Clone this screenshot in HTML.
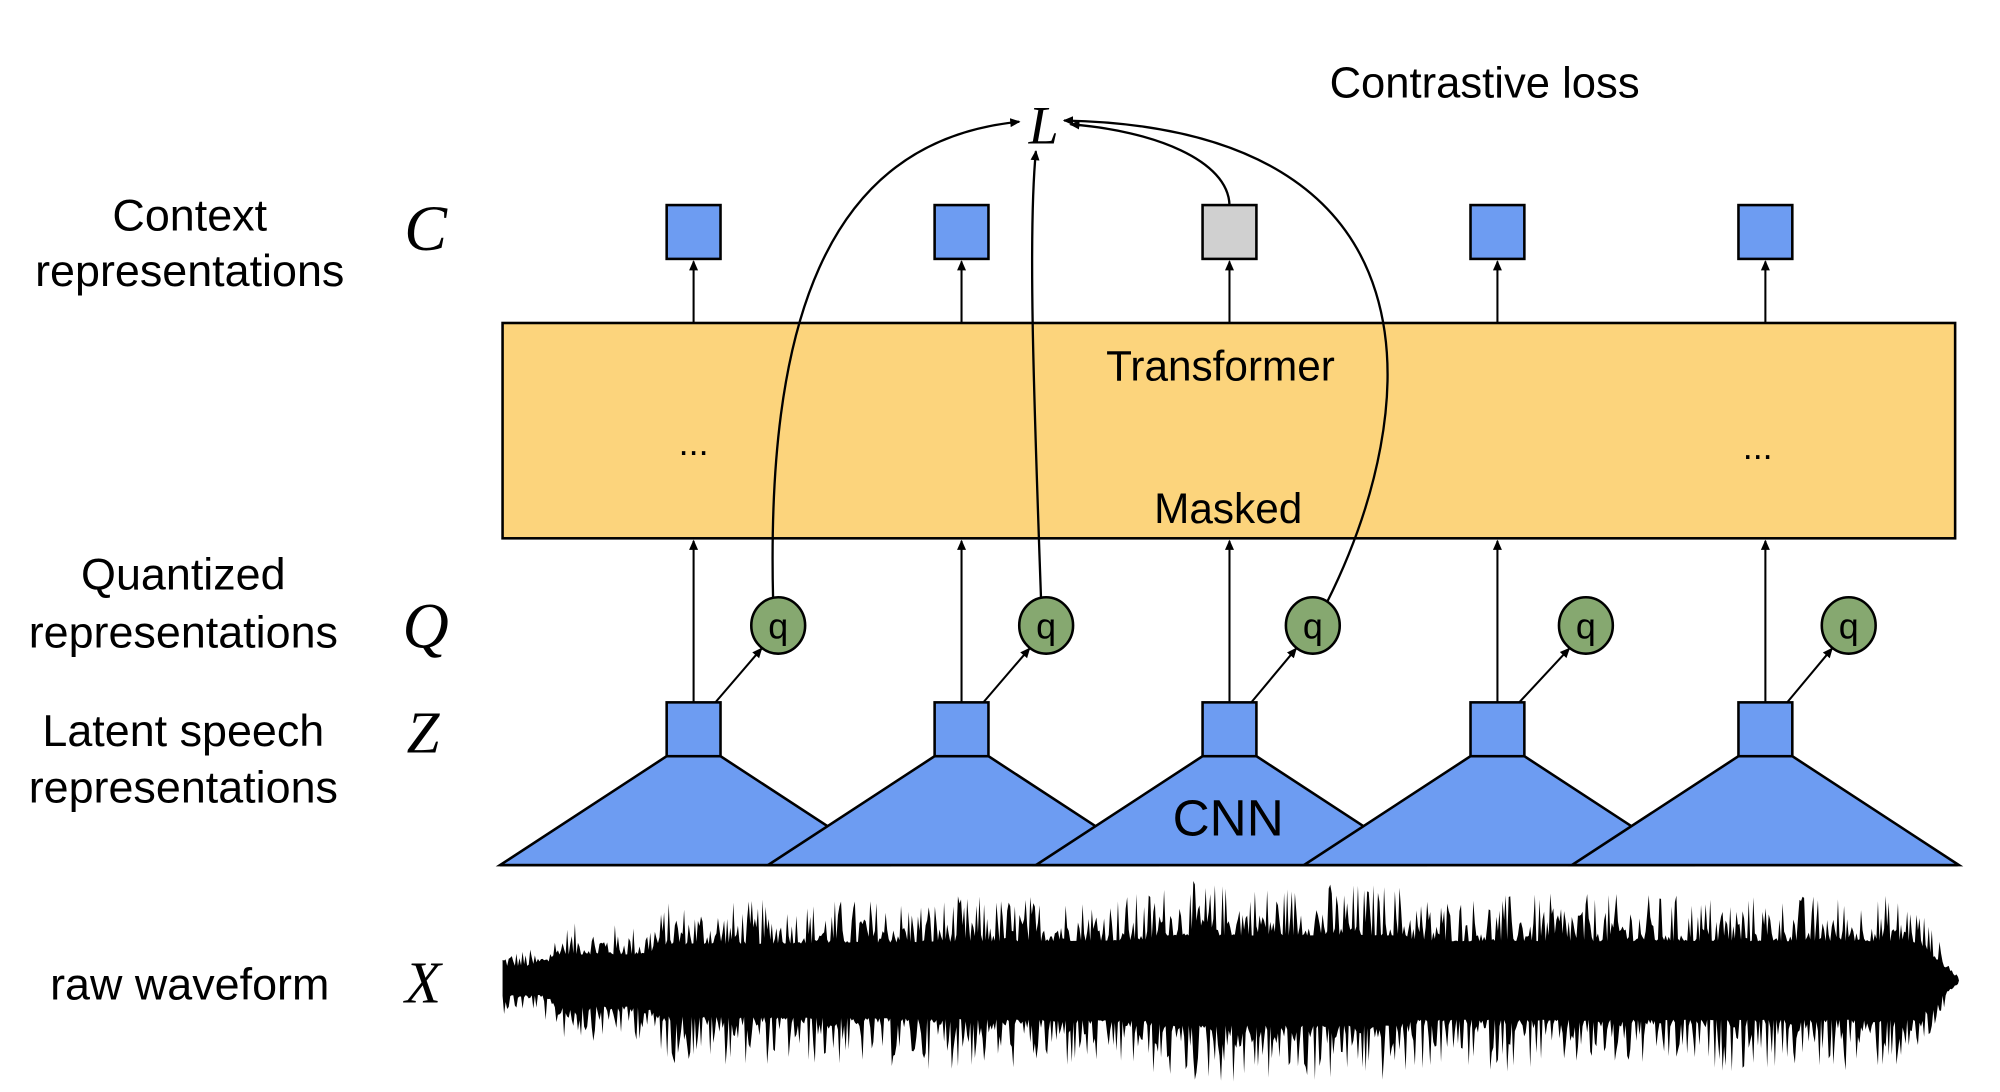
<!DOCTYPE html>
<html><head><meta charset="utf-8"><style>
html,body{margin:0;padding:0;background:#fff;width:2000px;height:1092px;overflow:hidden}
svg{display:block}
text{font-family:"Liberation Sans",sans-serif;fill:#000}
.s{font-family:"Liberation Serif",serif;font-style:italic}
</style></head><body>
<svg width="2000" height="1092" viewBox="0 0 1560 852" preserveAspectRatio="none" xmlns="http://www.w3.org/2000/svg">
<defs><marker id="a" markerWidth="8" markerHeight="8" refX="7" refY="4" orient="auto" markerUnits="userSpaceOnUse"><path d="M0,0.5 L8,4 L0,7.5 z" fill="#000"/></marker></defs>
<rect width="1560" height="852" fill="#fff"/>
<text x="148" y="180" font-size="35" text-anchor="middle">Context</text>
<text x="148" y="223" font-size="35" text-anchor="middle">representations</text>
<text x="143" y="460" font-size="35" text-anchor="middle">Quantized</text>
<text x="143" y="505" font-size="35" text-anchor="middle">representations</text>
<text x="143" y="582" font-size="35" text-anchor="middle">Latent speech</text>
<text x="143" y="626" font-size="35" text-anchor="middle">representations</text>
<text x="148" y="780" font-size="35" text-anchor="middle">raw waveform</text>
<text x="332" y="195" font-size="50" text-anchor="middle" class="s">C</text>
<text x="332" y="505" font-size="50" text-anchor="middle" class="s">Q</text>
<text x="330" y="587" font-size="46" text-anchor="middle" class="s">Z</text>
<text x="330" y="782" font-size="46" text-anchor="middle" class="s">X</text>
<text x="1158" y="76" font-size="34" text-anchor="middle">Contrastive loss</text>
<text x="814" y="112" font-size="42" text-anchor="middle" class="s">L</text>
<rect x="392" y="252" width="1133" height="168" fill="#fcd47c" stroke="#000" stroke-width="2"/>
<text x="952" y="297" font-size="33" text-anchor="middle">Transformer</text>
<text x="958" y="408" font-size="33" text-anchor="middle">Masked</text>
<text x="541" y="355" font-size="28" text-anchor="middle">...</text>
<text x="1371" y="358" font-size="28" text-anchor="middle">...</text>
<g id="cols" stroke="#000" stroke-width="1.6"></g>
<g fill="none" stroke="#000" stroke-width="1.8" marker-end="url(#a)">
<path d="M603,467 C598,260 640,110 795,95"/>
<path d="M812,467 C806,300 802,180 808,118"/>
<path d="M1035,470 C1110,320 1130,100 830,94"/>
<path d="M959,160 C958,125 900,102 835,97"/>
</g>
<path id="wave" fill="#000"/>
</svg>
<script>
(function(){
var cx=[541,750,959,1168,1377],qx=[607,816,1024,1237,1442];
var g=document.getElementById('cols'),h='';
for(var i=0;i<5;i++){var c=cx[i];
h+='<polygon points="'+(c-21)+',590 '+(c+21)+',590 '+(c+151)+',675 '+(c-151)+',675" fill="#6d9cf2" stroke="#000" stroke-width="2"/>';}
h+='<line x1="390" y1="675" x2="1527" y2="675" stroke="#000" stroke-width="2"/>';
for(var i=0;i<5;i++){var c=cx[i],q=qx[i];
h+='<rect x="'+(c-21)+'" y="548" width="42" height="42" fill="#6d9cf2" stroke="#000" stroke-width="2"/>';
h+='<rect x="'+(c-21)+'" y="160" width="42" height="42" fill="'+(i==2?'#d0d0d0':'#6d9cf2')+'" stroke="#000" stroke-width="2"/>';
h+='<line x1="'+c+'" y1="252" x2="'+c+'" y2="204" marker-end="url(#a)"/>';
h+='<line x1="'+c+'" y1="548" x2="'+c+'" y2="422" marker-end="url(#a)"/>';
h+='<line x1="'+(c+17)+'" y1="548" x2="'+(q-13)+'" y2="506" marker-end="url(#a)"/>';
h+='<ellipse cx="'+q+'" cy="488" rx="21" ry="22" fill="#86a870" stroke="#000" stroke-width="2"/>';
h+='<text x="'+q+'" y="498" font-size="28" text-anchor="middle" stroke="none">q</text>';}
h+='<text x="958" y="652" font-size="40" text-anchor="middle" stroke="none">CNN</text>';
g.innerHTML=h;
var s=12345;function r(){s=(s*1103515245+12345)%2147483648;return s/2147483648;}
function env(x){var e;if(x<430)e=25;else if(x<510)e=45;else if(x<900)e=62+(x-510)*0.02;else if(x<1100)e=78;else if(x<1495)e=68;else e=Math.max(0,68*(1528-x)/33);return e;}
function sm(x){var e=env(x-6)+env(x)+env(x+6);return e/3;}
var tp=[],bt=[];
for(var x=392;x<=1528;x+=1.2){var e=sm(x),core=e*0.45;
tp.push([x,765-(core+(e-core)*Math.pow(r(),2.5))]);
bt.push([x,765+(core+(e*1.05-core)*Math.pow(r(),2.5))]);}
var d='M392,765';tp.forEach(function(p){d+='L'+p[0].toFixed(1)+','+p[1].toFixed(1)});
d+='L1528,765';bt.reverse().forEach(function(p){d+='L'+p[0].toFixed(1)+','+p[1].toFixed(1)});
document.getElementById('wave').setAttribute('d',d+'Z');
})();
</script>
</body></html>
